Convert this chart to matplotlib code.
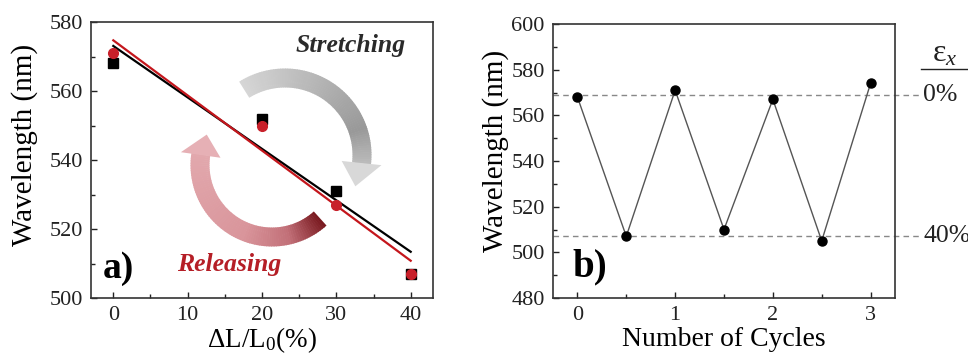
import numpy as np
import matplotlib
matplotlib.use('Agg')
import matplotlib.pyplot as plt
from matplotlib.patches import Polygon
from matplotlib.colors import to_rgb

# panel a) data
strain = [0, 20, 30, 40]
wl_stretch = [568, 552, 531, 507]
wl_release = [571, 550, 527, 507]

# panel b) data
cycles = [0, 0.5, 1, 1.5, 2, 2.5, 3]
wl_cycles = [568, 507, 571, 510, 567, 505, 574]
ref_levels = [569, 507]
ref_labels = ['0%', '40%']

plt.rcParams['font.family'] = ['Liberation Serif', 'DejaVu Serif']
plt.rcParams['mathtext.fontset'] = 'custom'
plt.rcParams['mathtext.rm'] = 'Liberation Serif'
plt.rcParams['mathtext.it'] = 'Liberation Serif:italic'

W, H = 968, 359


def interp_color(stops, t):
    for (t0, c0), (t1, c1) in zip(stops[:-1], stops[1:]):
        if t0 <= t <= t1:
            f = (t - t0) / (t1 - t0)
            a, b = np.array(to_rgb(c0)), np.array(to_rgb(c1))
            return a + (b - a) * f
    return to_rgb(stops[-1][1])


def arc_arrow(ax, cx, cy, r, w, a0, a_head, a_tip, head_w, stops, head_color):
    # pixel coords, y axis pointing down
    n = 80
    angs = np.radians(np.linspace(a0, a_head, n + 1))
    for i in range(n):
        a, b = angs[i], angs[i + 1] + 0.3 * (angs[i + 1] - angs[i])
        pts = [(cx + (r - w / 2) * np.cos(a), cy - (r - w / 2) * np.sin(a)),
               (cx + (r + w / 2) * np.cos(a), cy - (r + w / 2) * np.sin(a)),
               (cx + (r + w / 2) * np.cos(b), cy - (r + w / 2) * np.sin(b)),
               (cx + (r - w / 2) * np.cos(b), cy - (r - w / 2) * np.sin(b))]
        ax.add_patch(Polygon(pts, closed=True, fc=interp_color(stops, i / n), ec='none'))
    ah, at = np.radians(a_head), np.radians(a_tip)
    head = [(cx + (r - head_w / 2) * np.cos(ah), cy - (r - head_w / 2) * np.sin(ah)),
            (cx + (r + head_w / 2) * np.cos(ah), cy - (r + head_w / 2) * np.sin(ah)),
            (cx + r * np.cos(at), cy - r * np.sin(at))]
    ax.add_patch(Polygon(head, closed=True, fc=head_color, ec='none'))


def style_axes(ax):
    for s in ax.spines.values():
        s.set_color('#333333')
        s.set_linewidth(1.2)
    ax.tick_params(which='both', direction='in', top=False, right=False,
                   labelsize=16, colors='#222222', width=1.0)
    ax.tick_params(which='major', length=4, pad=6)
    ax.tick_params(which='minor', length=3)


fig = plt.figure(figsize=(W / 100, H / 100), dpi=100)

# ---------- panel a ----------
rect_a = [91 / W, 1 - 298 / H, 342 / W, 276 / H]
ax_deco = fig.add_axes(rect_a, zorder=0)
ax_deco.set_xlim(91, 433)
ax_deco.set_ylim(298, 22)
ax_deco.axis('off')

arc_arrow(ax_deco, 285, 155, 77, 19, 122, -6, -24, 40,
          [(0, '#d6d6d6'), (0.5, '#b0b0b0'), (0.8, '#999999'), (1, '#bcbcbc')], '#d8d8d8')
arc_arrow(ax_deco, 272, 165, 72, 19, -48, -188, -205, 40,
          [(0, '#7a1a20'), (0.2, '#c27078'), (0.45, '#d9959b'), (1, '#e2a8ad')], '#e6b0b5')

ax1 = fig.add_axes(rect_a, zorder=1)
ax1.patch.set_alpha(0)
ax1.set_xlim(-3, 43)
ax1.set_ylim(500, 580)
ax1.set_xticks([0, 10, 20, 30, 40])
ax1.set_xticks([5, 15, 25, 35], minor=True)
ax1.set_yticks([500, 520, 540, 560, 580])
ax1.set_yticks([510, 530, 550, 570], minor=True)
style_axes(ax1)

xs = np.array([0, 40])
fit_s = np.polyfit(strain, wl_stretch, 1)
fit_r = np.polyfit(strain, wl_release, 1)
ax1.plot(xs, np.polyval(fit_s, xs), color='black', lw=1.6)
ax1.plot(xs, np.polyval(fit_r, xs), color='#c4161c', lw=1.6)
ax1.plot(strain, wl_stretch, 's', color='black', ms=6.5, ls='none')
ax1.plot(strain, wl_release, 'o', color='#c8202a', ms=7, ls='none')

ax1.text(31.9, 573.3, 'Stretching', fontsize=18.5, fontweight='bold', style='italic',
         color='#2a2a2a', ha='center', va='center')
ax1.text(15.6, 509.8, 'Releasing', fontsize=18.5, style='italic', fontweight='bold',
         color='#b51e26', ha='center', va='center')
ax1.text(-1.4, 508.5, 'a)', fontsize=27, fontweight='bold', ha='left', va='center')

ax1.set_ylabel('Wavelength (nm)', fontsize=21)
ax1.yaxis.set_label_coords(-0.155, 0.553)
ax1.set_xlabel(r'ΔL/L$_\mathrm{0}$(%)', fontsize=19.5)
ax1.xaxis.set_label_coords(0.5, -0.1)

# ---------- panel b ----------
ax2 = fig.add_axes([553 / W, 1 - 298 / H, 342 / W, 274 / H])
ax2.set_xlim(-0.25, 3.25)
ax2.set_ylim(480, 600)
ax2.set_xticks([0, 1, 2, 3])
ax2.set_xticks([0.5, 1.5, 2.5], minor=True)
ax2.set_yticks([480, 500, 520, 540, 560, 580, 600])
ax2.set_yticks([490, 510, 530, 550, 570, 590], minor=True)
style_axes(ax2)

for lev, lab in zip(ref_levels, ref_labels):
    ax2.plot([-0.25, 3.51], [lev, lev], color='#888888', lw=1.0,
             dashes=(4, 3), clip_on=False, zorder=1)
    ax2.text(3.54, lev, lab, fontsize=18.5, ha='left', va='center', color='#222222')

ax2.plot(cycles, wl_cycles, '-', color='#555555', lw=1.0, zorder=2)
ax2.plot(cycles, wl_cycles, 'o', color='black', ms=6.5, zorder=3)

ax2.text(3.76, 587, r'ε$_x$', fontsize=23, ha='center', va='center', color='#222222')
ax2.plot([3.515, 3.99], [580.3, 580.3], color='#222222', lw=1.0, clip_on=False)

ax2.text(-0.05, 493.5, 'b)', fontsize=28, fontweight='bold', ha='left', va='center')

ax2.set_ylabel('Wavelength (nm)', fontsize=21)
ax2.yaxis.set_label_coords(-0.13, 0.535)
ax2.set_xlabel('Number of Cycles', fontsize=20)
ax2.xaxis.set_label_coords(0.5, -0.105)

fig.savefig('out.png', dpi=100)
